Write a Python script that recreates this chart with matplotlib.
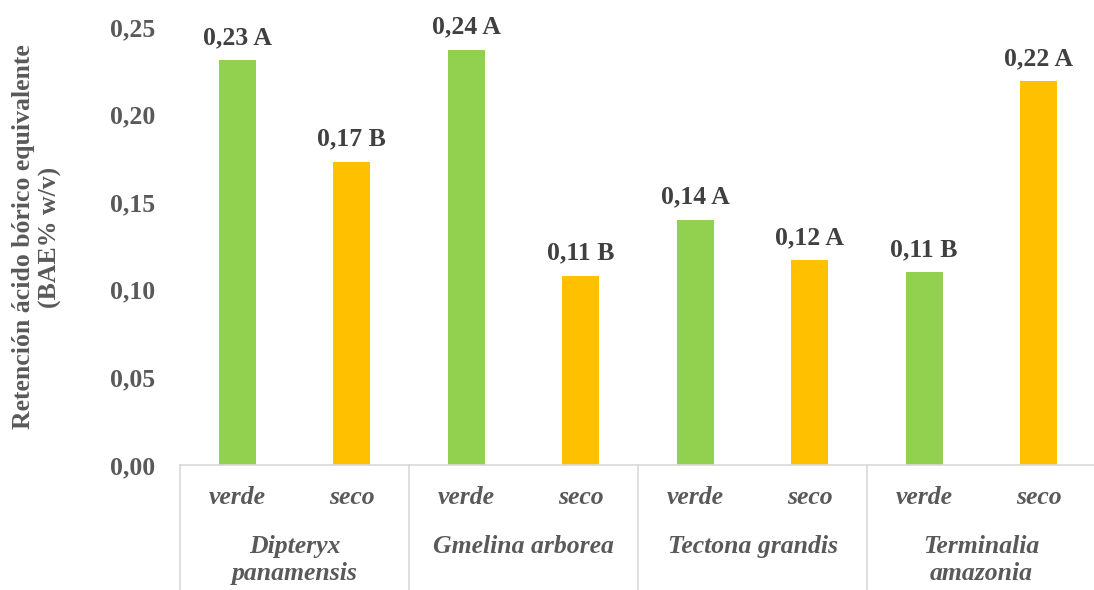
import matplotlib.pyplot as plt
from matplotlib.transforms import blended_transform_factory

plt.rcParams['font.family'] = ['Liberation Serif', 'DejaVu Serif']

# datos de retención por especie y condición
especies = ["Dipteryx\npanamensis", "Gmelina arborea", "Tectona grandis", "Terminalia\namazonia"]
condiciones = ["verde", "seco"]
verde = [0.231, 0.237, 0.140, 0.110]
seco = [0.173, 0.108, 0.117, 0.219]
letras_verde = ["A", "A", "A", "B"]
letras_seco = ["B", "B", "A", "A"]
yticks = [0.00, 0.05, 0.10, 0.15, 0.20, 0.25]

c_verde = "#92d050"
c_seco = "#ffc000"
gris_txt = "#595959"
gris_lin = "#d9d9d9"

fig = plt.figure(figsize=(10.94, 5.90), dpi=100)
ax = fig.add_axes([180 / 1094, 125 / 590, 916 / 1094, 438 / 590])

ancho = 0.32
for i in range(len(especies)):
    xv = 2 * i
    xs = 2 * i + 1
    ax.bar(xv, verde[i], width=ancho, color=c_verde)
    ax.bar(xs, seco[i], width=ancho, color=c_seco)
    for x, v, l in [(xv, verde[i], letras_verde[i]), (xs, seco[i], letras_seco[i])]:
        ax.annotate(f"{v:.2f}".replace(".", ",") + " " + l, (x, v),
                    textcoords="offset points", xytext=(0, 8), ha="center",
                    va="bottom", fontsize=18.5, fontweight="bold", color="#404040")

ax.set_xlim(-0.5, 7.5)
ax.set_ylim(0, 0.25)
ax.set_yticks(yticks)
ax.set_yticklabels([f"{t:.2f}".replace(".", ",") for t in yticks],
                   fontsize=18.5, fontweight="bold", color=gris_txt)
ax.tick_params(axis="y", length=0, pad=18)
ax.set_xticks([])

for s in ["top", "right", "left"]:
    ax.spines[s].set_visible(False)
ax.spines["bottom"].set_color(gris_lin)
ax.spines["bottom"].set_linewidth(1.2)

# etiquetas de categorías en dos niveles
trans = blended_transform_factory(ax.transData, ax.transAxes)
h = 438
for i, nombre in enumerate(especies):
    for j, cond in enumerate(condiciones):
        ax.text(2 * i + j, -33 / h, cond, transform=trans, ha="center", va="center",
                fontsize=18.5, fontstyle="italic", fontweight="bold", color=gris_txt)
    ax.text(2 * i + 0.5, -70 / h, nombre, transform=trans, ha="center", va="top",
            fontsize=18.5, fontstyle="italic", fontweight="bold", color=gris_txt,
            linespacing=1.2)
for k in range(len(especies)):
    ax.plot([2 * k - 0.5, 2 * k - 0.5], [0, -125 / h], transform=trans,
            color=gris_lin, lw=1.2, clip_on=False)

fig.text(37 / 1094, 1 - 237 / 590, "Retención ácido bórico equivalente\n(BAE% w/v)",
         rotation=90, ha="center", va="center", fontsize=18.5, fontweight="bold",
         color=gris_txt, linespacing=1.15)

fig.savefig("out.png", dpi=100)
